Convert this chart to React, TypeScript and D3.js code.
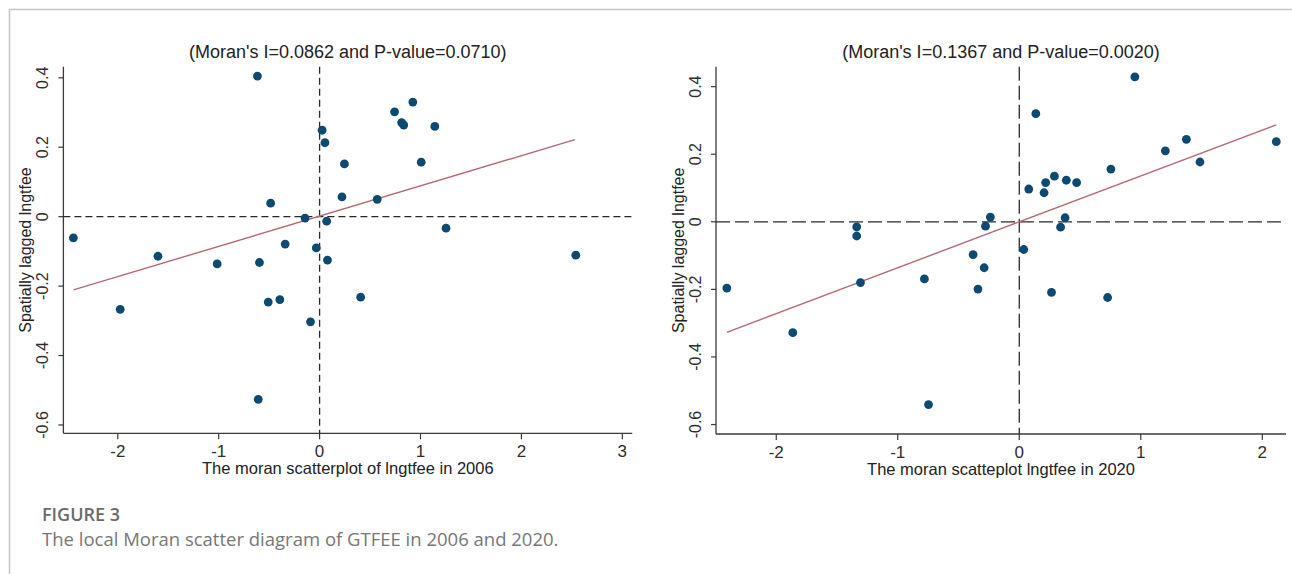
import React, { useRef, useEffect } from "react";
import * as d3 from "d3";

// 2006 panel
const x2006 = [
  -0.616, 0.924, 0.743, 0.813, 0.834, 1.142, 0.025, 0.053, 0.246, 1.007,
  0.222, 0.571, -0.485, -0.144, 0.07, 1.253, -2.44, -0.341, -0.033, -1.602,
  2.539, 0.078, -1.015, -0.596, 0.407, -0.394, -0.509, -1.976, -0.09, -0.608,
];
const y2006 = [
  0.405, 0.33, 0.302, 0.271, 0.264, 0.26, 0.249, 0.213, 0.152, 0.157,
  0.057, 0.05, 0.039, -0.004, -0.013, -0.033, -0.061, -0.079, -0.09, -0.114,
  -0.111, -0.125, -0.136, -0.132, -0.232, -0.239, -0.246, -0.267, -0.303, -0.526,
];
const fit2006X = [-2.44, 2.53];
const fit2006Y = [-0.211, 0.222];

// 2020 panel
const x2020 = [
  0.951, 0.136, 1.375, 2.115, 1.202, 1.487, 0.754, 0.289, 0.387, 0.217,
  0.472, 0.078, 0.204, -0.238, 0.377, -0.278, -1.338, 0.34, -1.338, 0.037,
  -0.38, -0.289, -0.781, -1.307, -2.407, -0.34, 0.265, 0.727, -1.864, -0.747,
];
const y2020 = [
  0.429, 0.32, 0.244, 0.237, 0.21, 0.177, 0.156, 0.135, 0.123, 0.116,
  0.116, 0.097, 0.086, 0.014, 0.012, -0.013, -0.015, -0.016, -0.042, -0.082,
  -0.097, -0.136, -0.169, -0.18, -0.196, -0.199, -0.209, -0.224, -0.328, -0.541,
];
const fit2020X = [-2.407, 2.115];
const fit2020Y = [-0.327, 0.287];

const xTicks2006 = [-2, -1, 0, 1, 2, 3];
const xTicks2020 = [-2, -1, 0, 1, 2];
const yTicks = [-0.6, -0.4, -0.2, 0, 0.2, 0.4];
const yTickLabels = ["-0.6", "-0.4", "-0.2", "0", "0.2", "0.4"];

const titles = [
  "(Moran's I=0.0862 and P-value=0.0710)",
  "(Moran's I=0.1367 and P-value=0.0020)",
];
const xTitles = [
  "The moran scatterplot of lngtfee in 2006",
  "The moran scatteplot lngtfee in 2020",
];
const yTitle = "Spatially lagged lngtfee";

const W = 1292;
const H = 574;
const FONT = "'Liberation Sans', Arial, Helvetica, sans-serif";

const drawPanel = (svg, cfg) => {
  const x = d3.scaleLinear().domain(cfg.xDomain).range([cfg.left, cfg.right]);
  const y = d3.scaleLinear().domain(cfg.yDomain).range([cfg.bottom, cfg.top]);
  const g = svg.append("g");
  const axisColor = "#3a3a3a";

  // axes
  g.append("line")
    .attr("x1", cfg.left).attr("x2", cfg.left)
    .attr("y1", cfg.top).attr("y2", cfg.bottom)
    .attr("stroke", axisColor).attr("stroke-width", 1.3);
  g.append("line")
    .attr("x1", cfg.left).attr("x2", cfg.right)
    .attr("y1", cfg.bottom).attr("y2", cfg.bottom)
    .attr("stroke", axisColor).attr("stroke-width", 1.3);

  // y ticks
  cfg.yTicks.forEach((t, i) => {
    g.append("line")
      .attr("x1", cfg.left - 5).attr("x2", cfg.left)
      .attr("y1", y(t)).attr("y2", y(t))
      .attr("stroke", axisColor).attr("stroke-width", 1.2);
    g.append("text")
      .attr("transform", `translate(${cfg.left - 21},${y(t)}) rotate(-90)`)
      .attr("text-anchor", "middle")
      .attr("dominant-baseline", "central")
      .attr("font-family", FONT)
      .attr("font-size", 16)
      .attr("fill", "#2e2e2e")
      .text(cfg.yTickLabels[i]);
  });

  // x ticks
  cfg.xTicks.forEach((t) => {
    g.append("line")
      .attr("x1", x(t)).attr("x2", x(t))
      .attr("y1", cfg.bottom).attr("y2", cfg.bottom + 6)
      .attr("stroke", axisColor).attr("stroke-width", 1.2);
    g.append("text")
      .attr("x", x(t))
      .attr("y", cfg.bottom + 24)
      .attr("text-anchor", "middle")
      .attr("font-family", FONT)
      .attr("font-size", 17)
      .attr("fill", "#2e2e2e")
      .text(String(t));
  });

  // reference lines at zero
  g.append("line")
    .attr("x1", x(0)).attr("x2", x(0))
    .attr("y1", cfg.top).attr("y2", cfg.bottom)
    .attr("stroke", "#2a2a2a").attr("stroke-width", 1.3)
    .attr("stroke-dasharray", cfg.dash);
  g.append("line")
    .attr("x1", cfg.left).attr("x2", cfg.right)
    .attr("y1", y(0)).attr("y2", y(0))
    .attr("stroke", "#2a2a2a").attr("stroke-width", 1.3)
    .attr("stroke-dasharray", cfg.dash);

  // fitted line
  const line = d3.line().x((d) => x(d[0])).y((d) => y(d[1]));
  g.append("path")
    .attr("d", line(d3.zip(cfg.fitX, cfg.fitY)))
    .attr("fill", "none")
    .attr("stroke", "#b46a74")
    .attr("stroke-width", 1.4);

  // points
  g.append("g")
    .selectAll("circle")
    .data(d3.zip(cfg.xs, cfg.ys))
    .join("circle")
    .attr("cx", (d) => x(d[0]))
    .attr("cy", (d) => y(d[1]))
    .attr("r", 4.4)
    .attr("fill", "#0c4a72");

  // titles
  g.append("text")
    .attr("x", (cfg.left + cfg.right) / 2)
    .attr("y", 58)
    .attr("text-anchor", "middle")
    .attr("font-family", FONT)
    .attr("font-size", 18)
    .attr("fill", "#222")
    .text(cfg.title);
  g.append("text")
    .attr("x", (cfg.left + cfg.right) / 2)
    .attr("y", cfg.bottom + 41)
    .attr("text-anchor", "middle")
    .attr("font-family", FONT)
    .attr("font-size", 16.5)
    .attr("fill", "#222")
    .text(cfg.xTitle);
  g.append("text")
    .attr("transform", `translate(${cfg.yTitleX},${(cfg.top + cfg.bottom) / 2}) rotate(-90)`)
    .attr("text-anchor", "middle")
    .attr("dominant-baseline", "central")
    .attr("font-family", FONT)
    .attr("font-size", 16)
    .attr("fill", "#222")
    .text(yTitle);
};

const App = () => {
  const svgRef = useRef();

  useEffect(() => {
    const svg = d3.select(svgRef.current);
    svg.selectAll("*").remove();

    svg.append("rect").attr("width", W).attr("height", H).attr("fill", "#fff");

    // card frame (top and left edges)
    svg.append("path")
      .attr("d", `M9.5,${H} V9.5 H${W}`)
      .attr("fill", "none")
      .attr("stroke", "#c4c4c4")
      .attr("stroke-width", 1.5);

    drawPanel(svg, {
      left: 63.4, right: 632.2, top: 66.7, bottom: 433.3,
      xDomain: [-2.539, 3.098], yDomain: [-0.624, 0.432],
      xs: x2006, ys: y2006, fitX: fit2006X, fitY: fit2006Y,
      xTicks: xTicks2006, yTicks, yTickLabels,
      title: titles[0], xTitle: xTitles[0], yTitleX: 25,
      dash: "7,4",
    });

    drawPanel(svg, {
      left: 716, right: 1286, top: 66.7, bottom: 434,
      xDomain: [-2.496, 2.195], yDomain: [-0.628, 0.459],
      xs: x2020, ys: y2020, fitX: fit2020X, fitY: fit2020Y,
      xTicks: xTicks2020, yTicks, yTickLabels,
      title: titles[1], xTitle: xTitles[1], yTitleX: 678,
      dash: "14,5",
    });

    // caption
    const capFont = "'Open Sans', Lato, sans-serif";
    svg.append("text")
      .attr("x", 42)
      .attr("y", 521)
      .attr("font-family", capFont)
      .attr("font-weight", 600)
      .attr("font-size", 18)
      .attr("fill", "#6b6b6b")
      .text("FIGURE 3");
    svg.append("text")
      .attr("x", 42)
      .attr("y", 546)
      .attr("font-family", capFont)
      .attr("font-size", 18.5)
      .attr("fill", "#777")
      .text("The local Moran scatter diagram of GTFEE in 2006 and 2020.");
  }, []);

  return (
    <svg
      ref={svgRef}
      width={W}
      height={H}
      style={{ position: "absolute", left: 0, top: 0, display: "block" }}
    />
  );
};

export default App;
